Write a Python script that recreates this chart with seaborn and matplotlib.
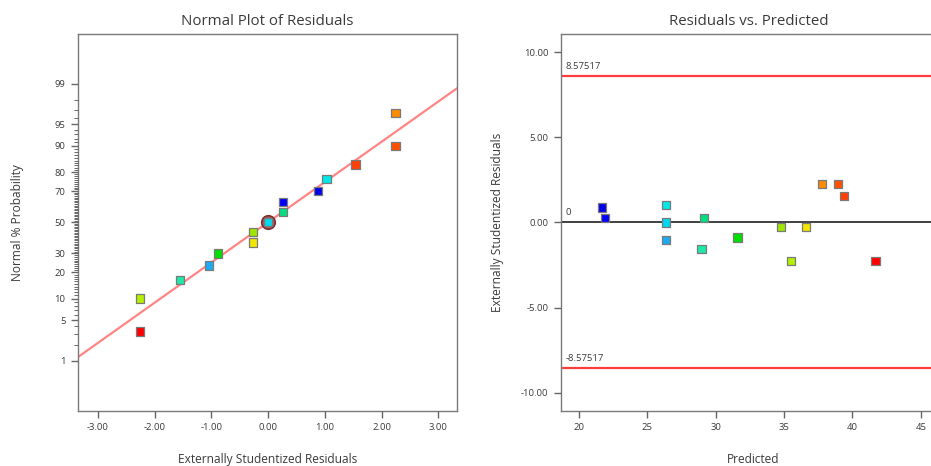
import numpy as np
import pandas as pd
import matplotlib
matplotlib.use("Agg")
import matplotlib.pyplot as plt
import matplotlib.transforms as mtrans
from matplotlib.ticker import FixedLocator, NullFormatter
import seaborn as sns
from statistics import NormalDist

# ---------------- data ----------------
residuals = [-2.256, -2.256, -1.55, -1.043, -0.878, -0.265, -0.265, 0.0,
             0.265, 0.265, 0.877, 1.03, 1.543, 2.244, 2.244]
normal_pct = [3.33, 10.0, 16.67, 23.33, 30.0, 36.67, 43.33, 50.0,
              56.67, 63.33, 70.0, 76.67, 83.33, 90.0, 96.67]
predicted = [41.7, 35.5, 28.95, 26.34, 31.6, 36.6, 34.78, 26.34,
             29.15, 21.9, 21.66, 26.34, 39.4, 38.95, 37.8]
point_colors = ['#ff0000', '#b4f000', '#20e8a8', '#1eaaf0', '#00e000',
                '#f0e600', '#a0e600', '#00d8f0', '#00e080', '#0000ff',
                '#0000e6', '#00e8e8', '#ff4000', '#ff5000', '#ff8c00']
highlight_run = 7
fit_sigma = 1.48
limit = 8.57517
prob_ticks = [1, 5, 10, 20, 30, 50, 70, 80, 90, 95, 99]
resid_ticks_left = [-3, -2, -1, 0, 1, 2, 3]
pred_ticks = [20, 25, 30, 35, 40, 45]
resid_ticks_right = [-10, -5, 0, 5, 10]

df = pd.DataFrame({"run": [str(i) for i in range(len(residuals))],
                   "resid": residuals, "pct": normal_pct, "pred": predicted})
palette = dict(zip(df["run"], point_colors))

sns.set_theme(style="ticks")
TXT = '#3a3a3a'
SP = '#7a7a7a'
TK = '#666666'
plt.rcParams.update({'font.family': ['Open Sans', 'DejaVu Sans']})

nd = NormalDist()

def fwd(p):
    a = np.asarray(p, float)
    out = np.array([nd.inv_cdf(min(max(v / 100.0, 1e-12), 1 - 1e-12)) if np.isfinite(v) else np.nan
                    for v in a.ravel()], dtype=float)
    return out.reshape(a.shape)

def inv(z):
    a = np.asarray(z, float)
    out = np.array([nd.cdf(v) * 100.0 if np.isfinite(v) else np.nan for v in a.ravel()], dtype=float)
    return out.reshape(a.shape)

fig = plt.figure(figsize=(9.31, 4.66), dpi=100)
W, H = 931, 466
ax1 = fig.add_axes([78 / W, (H - 411) / H, (457 - 78) / W, (411 - 33.5) / H])
ax2 = fig.add_axes([561 / W, (H - 411) / H, (945 - 561) / W, (411 - 33.5) / H])

# ---------------- left: normal plot ----------------
ax1.set_yscale('function', functions=(fwd, inv))
xl = (-3.35, 3.33)
ax1.set_xlim(*xl)
ax1.set_ylim(inv(-3.17), inv(3.17))
xs = np.array(xl)
ax1.plot(xs, inv(xs / fit_sigma), color='#ff7070', lw=1.6, alpha=0.85, zorder=1)
hp = df.iloc[highlight_run]
ax1.scatter([hp["resid"]], [hp["pct"]], s=95, facecolor='#b05858', edgecolor='#7a2e2e',
            linewidth=1.2, zorder=2)
sns.scatterplot(data=df, x="resid", y="pct", hue="run", palette=palette, marker='s', s=36,
                edgecolor='#7a7a7a', linewidth=0.9, legend=False, ax=ax1, zorder=3)
ax1.set_xticks(resid_ticks_left)
ax1.set_xticklabels([f"{t:.2f}" for t in resid_ticks_left])
ax1.yaxis.set_major_locator(FixedLocator(prob_ticks))
ax1.set_yticklabels([str(t) for t in prob_ticks])
minor = [v for v in range(2, 99) if v not in prob_ticks]
ax1.yaxis.set_minor_locator(FixedLocator(minor))
ax1.yaxis.set_minor_formatter(NullFormatter())
ax1.set_title("Normal Plot of Residuals", fontsize=10.8, color=TXT, pad=6)
ax1.set_xlabel("Externally Studentized Residuals", fontsize=8.6, color=TXT, labelpad=15)
ax1.set_ylabel("Normal % Probability", fontsize=8.6, color=TXT, labelpad=22)

# ---------------- right: residuals vs predicted ----------------
ax2.set_xlim(20 + (561 - 579) / 13.67, 20 + (945 - 579) / 13.67)
ax2.set_ylim(-11.08, 11.1)
ax2.axhline(limit, color='#ff3c3c', lw=1.6, zorder=1)
ax2.axhline(-limit, color='#ff3c3c', lw=1.6, zorder=1)
ax2.axhline(0, color='#404040', lw=1.4, zorder=1)
x0 = ax2.get_xlim()[0] + 0.35
ax2.text(x0, limit + 0.45, f"{limit:.5f}", fontsize=6.8, color=TXT)
ax2.text(x0, 0.45, "0", fontsize=6.8, color=TXT)
ax2.text(x0, -limit + 0.45, f"{-limit:.5f}", fontsize=6.8, color=TXT)
sns.scatterplot(data=df, x="pred", y="resid", hue="run", palette=palette, marker='s', s=36,
                edgecolor='#7a7a7a', linewidth=0.9, legend=False, ax=ax2, zorder=3)
ax2.set_xticks(pred_ticks)
ax2.set_xticklabels([str(t) for t in pred_ticks])
ax2.set_yticks(resid_ticks_right)
ax2.set_yticklabels([f"{t:.2f}" for t in resid_ticks_right])
ax2.set_title("Residuals vs. Predicted", fontsize=10.8, color=TXT, pad=6, x=(749 - 561) / (945 - 561))
ax2.set_xlabel("Predicted", fontsize=8.6, color=TXT, labelpad=15)
ax2.set_ylabel("Externally Studentized Residuals", fontsize=8.6, color=TXT, labelpad=12)

for ax in (ax1, ax2):
    for s in ax.spines.values():
        s.set_visible(True)
        s.set_color(SP)
        s.set_linewidth(1.0)
    ax.grid(False)
    ax.tick_params(axis='both', which='both', length=0, labelsize=6.8,
                   labelcolor=TXT, pad=9)

# explicit tick stubs (drawn from the tick arrays through the axes transforms)
def xstubs(ax, ticks, length_px=7, lw=1.0):
    bb = ax.get_position()
    frac = length_px / (bb.height * H)
    tr = mtrans.blended_transform_factory(ax.transData, ax.transAxes)
    for t in ticks:
        ax.plot([t, t], [0, -frac], transform=tr, color=TK, lw=lw, clip_on=False,
                solid_capstyle='butt', zorder=5)

def ystubs(ax, ticks, length_px=7, lw=1.0):
    bb = ax.get_position()
    frac = length_px / (bb.width * W)
    tr = mtrans.blended_transform_factory(ax.transAxes, ax.transData)
    for t in ticks:
        ax.plot([0, -frac], [t, t], transform=tr, color=TK, lw=lw, clip_on=False,
                solid_capstyle='butt', zorder=5)

xstubs(ax1, resid_ticks_left)
ystubs(ax1, prob_ticks)
ystubs(ax1, minor, length_px=4, lw=0.7)
xstubs(ax2, pred_ticks)
ystubs(ax2, resid_ticks_right)
ax1.set_xlim(*xl)
ax1.set_ylim(inv(-3.17), inv(3.17))
ax2.set_ylim(-11.08, 11.1)

fig.savefig("out.png", dpi=100)
